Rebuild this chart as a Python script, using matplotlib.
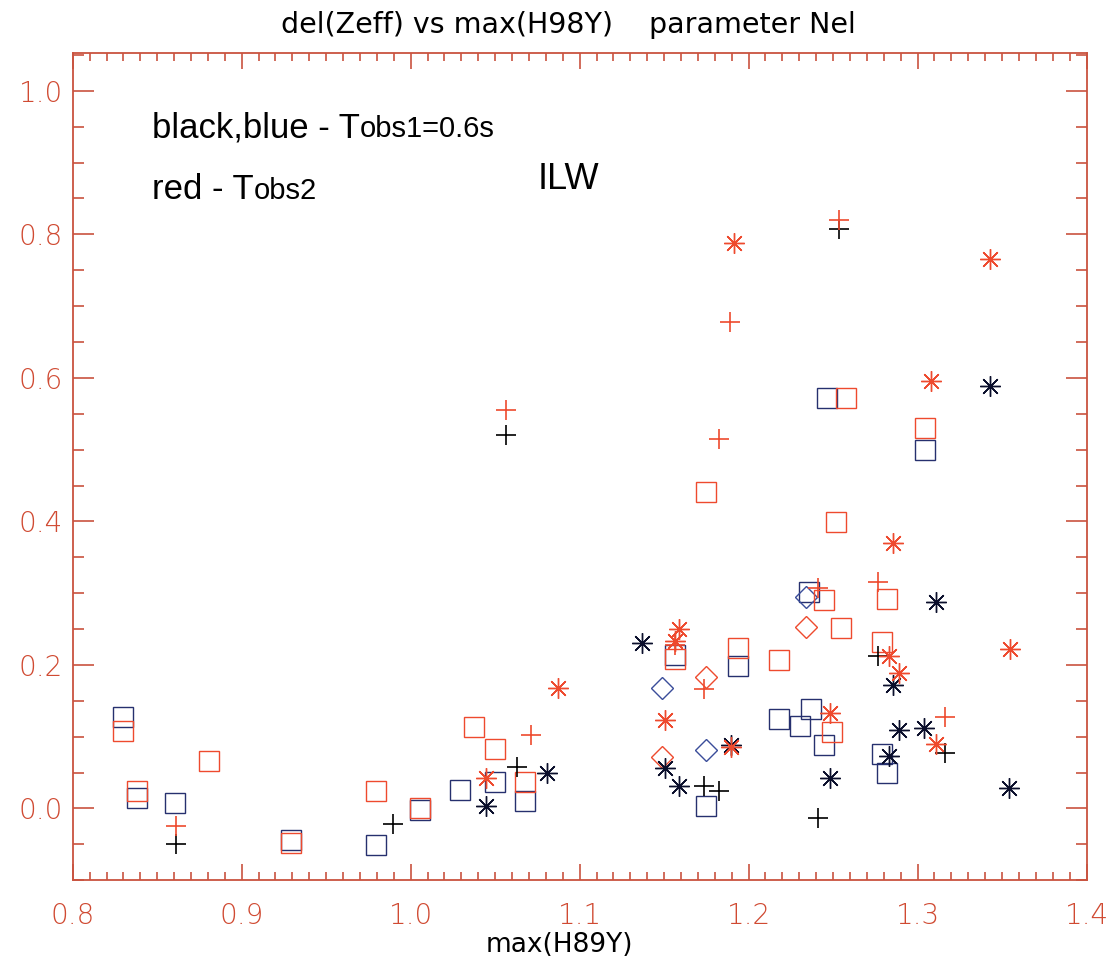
import matplotlib
matplotlib.use('Agg')
import matplotlib.pyplot as plt
import matplotlib.font_manager as fm
from matplotlib.ticker import MultipleLocator, FormatStrFormatter

# narrow face for title / axis text, falls back to DejaVu
names = set(f.name for f in fm.fontManager.ttflist)
narrow = 'Liberation Sans Narrow' if 'Liberation Sans Narrow' in names else 'DejaVu Sans'
plain = 'Liberation Sans' if 'Liberation Sans' in names else 'DejaVu Sans'

# Tobs1 = 0.6 s  (black / blue)
black_plus_x = [0.861, 0.9897, 1.0566, 1.0627, 1.1736, 1.1826, 1.2412, 1.2537, 1.2763, 1.3161]
black_plus_y = [-0.049, -0.021, 0.521, 0.058, 0.031, 0.025, -0.013, 0.807, 0.213, 0.077]

black_ast_x = [1.0444, 1.0808, 1.1371, 1.1505, 1.1588, 1.1895, 1.2481, 1.2832, 1.2856,
               1.2891, 1.3039, 1.311, 1.3428, 1.3542]
black_ast_y = [0.004, 0.049, 0.230, 0.056, 0.032, 0.089, 0.043, 0.073, 0.172,
               0.109, 0.112, 0.288, 0.588, 0.029]

blue_sq_x = [0.8295, 0.838, 0.8604, 0.929, 0.9797, 1.0055, 1.029, 1.050, 1.0679, 1.1564,
             1.1749, 1.1938, 1.2178, 1.2302, 1.236, 1.237, 1.2444, 1.2466, 1.279, 1.2819, 1.3046]
blue_sq_y = [0.127, 0.015, 0.007, -0.044, -0.051, -0.0015, 0.026, 0.037, 0.010, 0.214,
             0.004, 0.198, 0.125, 0.115, 0.301, 0.139, 0.089, 0.572, 0.0755, 0.0497, 0.499]

blue_dia_x = [1.1489, 1.1746, 1.2339]
blue_dia_y = [0.168, 0.082, 0.295]

# Tobs2 (red)
red_plus_x = [0.861, 1.0566, 1.0712, 1.1564, 1.1736, 1.1826, 1.1891, 1.2412, 1.2537, 1.2767, 1.3161]
red_plus_y = [-0.025, 0.555, 0.103, 0.228, 0.166, 0.5145, 0.678, 0.307, 0.820, 0.315, 0.127]

red_ast_x = [1.0444, 1.0874, 1.1507, 1.1564, 1.1588, 1.1895, 1.1911, 1.2481, 1.283,
             1.2856, 1.2891, 1.3077, 1.3108, 1.3428, 1.355]
red_ast_y = [0.042, 0.1685, 0.1226, 0.233, 0.250, 0.086, 0.7875, 0.133, 0.212,
             0.370, 0.189, 0.595, 0.090, 0.766, 0.222]

red_sq_x = [0.8295, 0.838, 0.8804, 0.929, 0.9797, 1.0055, 1.0373, 1.050, 1.0679, 1.1564,
            1.1749, 1.1938, 1.2178, 1.2444, 1.2494, 1.2515, 1.2546, 1.2575, 1.279, 1.2821, 1.3046]
red_sq_y = [0.1075, 0.024, 0.0655, -0.048, 0.024, 0.0, 0.114, 0.083, 0.037, 0.208,
            0.441, 0.224, 0.207, 0.291, 0.106, 0.399, 0.252, 0.572, 0.232, 0.292, 0.5305]

red_dia_x = [1.1489, 1.1746, 1.2339]
red_dia_y = [0.072, 0.183, 0.253]

RED = '#ee4a2e'
NAVY = '#26306e'
INK = '#0b0f2c'
AXIS = '#c9533f'
LABEL = '#d04a32'

fig = plt.figure(figsize=(11.12, 9.65), dpi=100)
ax = fig.add_axes([0.0654, 0.0878, 0.9117, 0.8576])

ms = 13.7
lw = 1.0
asterisk = (8, 2, 0)

ax.plot(blue_sq_x, blue_sq_y, ls='none', marker='s', ms=ms, mfc='none', mec=NAVY, mew=lw)
ax.plot(blue_dia_x, blue_dia_y, ls='none', marker='D', ms=11.5, mfc='none', mec='#3a4d9a', mew=lw)
ax.plot(red_sq_x, red_sq_y, ls='none', marker='s', ms=ms, mfc='none', mec=RED, mew=lw)
ax.plot(red_dia_x, red_dia_y, ls='none', marker='D', ms=11.5, mfc='none', mec=RED, mew=lw)
ax.plot(black_plus_x, black_plus_y, ls='none', marker='+', ms=ms, mec='black', mew=lw + 0.2)
ax.plot(red_plus_x, red_plus_y, ls='none', marker='+', ms=ms, mec=RED, mew=lw + 0.2)
ax.plot(black_ast_x, black_ast_y, ls='none', marker=asterisk, ms=ms + 1, mec=INK, mew=lw)
ax.plot(red_ast_x, red_ast_y, ls='none', marker=asterisk, ms=ms + 1, mec=RED, mew=lw)

ax.set_xlim(0.8, 1.4)
ax.set_ylim(-0.1, 1.053)

for s in ax.spines.values():
    s.set_color(AXIS)
    s.set_linewidth(1.3)

ax.xaxis.set_major_locator(MultipleLocator(0.1))
ax.xaxis.set_minor_locator(MultipleLocator(0.01))
ax.yaxis.set_major_locator(MultipleLocator(0.2))
ax.yaxis.set_minor_locator(MultipleLocator(0.05))
ax.xaxis.set_major_formatter(FormatStrFormatter('%.1f'))
ax.yaxis.set_major_formatter(FormatStrFormatter('%.1f'))

ax.tick_params(axis='both', which='both', direction='in', color=AXIS, width=1.2,
               top=True, right=True, labelcolor=LABEL, labelsize=20)
ax.tick_params(axis='x', which='major', length=11.5, pad=16)
ax.tick_params(axis='x', which='minor', length=6)
ax.tick_params(axis='y', which='major', length=15, pad=7)
ax.tick_params(axis='y', which='minor', length=7.7)
for lab in ax.get_xticklabels() + ax.get_yticklabels():
    lab.set_family(narrow)
    lab.set_fontweight('light')

fig.text(0.511, 0.974, 'del(Zeff) vs max(H98Y)    parameter Nel', ha='center', va='center',
         fontsize=20.5, family=narrow)
fig.text(0.503, 0.021, 'max(H89Y)', ha='center', va='center', fontsize=19, family=narrow)

# legend-like notes with the small "obs" part set on the same baseline
fig.canvas.draw()
renderer = fig.canvas.get_renderer()
for y, big, small in [(0.858, 'black,blue - T', 'obs1=0.6s'), (0.794, 'red - T', 'obs2')]:
    t = fig.text(0.1367, y, big, ha='left', va='baseline', fontsize=25, family=plain)
    bb = t.get_window_extent(renderer)
    fig.text(bb.x1 / fig.bbox.width, y, small, ha='left', va='baseline', fontsize=21, family=plain)

fig.text(0.511, 0.8135, 'ILW', ha='center', va='center', fontsize=26, family=plain)

fig.savefig('out.png', dpi=100, facecolor='white')
